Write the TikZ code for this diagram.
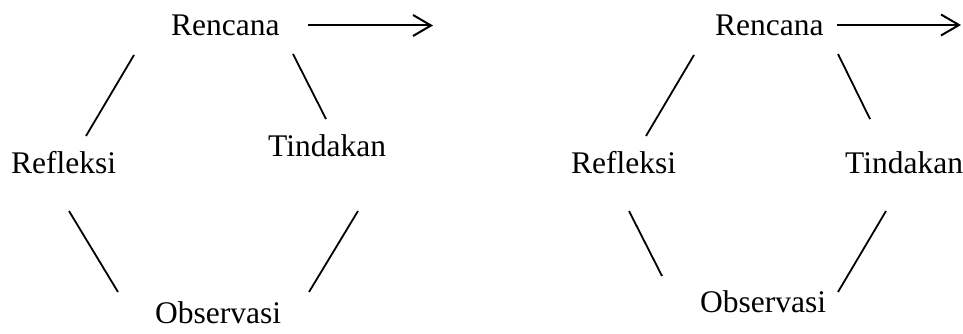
\documentclass[tikz,border=0pt]{standalone}
\usepackage{fontspec}
\setmainfont{Liberation Serif}
\usetikzlibrary{arrows.meta}
\begin{document}
\begin{tikzpicture}[x=1pt,y=-1pt,
  label/.style={inner sep=0pt,anchor=base west,font=\fontsize{31.5}{36}\selectfont},
  link/.style={line width=1.8pt},
  flow/.style={line width=2pt,-{Straight Barb[length=18pt,width=21pt,line width=2pt]}}]
\useasboundingbox (0,0) rectangle (963,334);

% first cycle
\node[label] (r1) at (171,35.5) {Rencana};
\node[label] (t1) at (268,157) {Tindakan};
\node[label] (f1) at (11,173) {Refleksi};
\node[label] (o1) at (155,323) {Observasi};
\coordinate (r1a) at (134,55);  \coordinate (f1a) at (86,136);
\coordinate (r1b) at (293,54);  \coordinate (t1a) at (326,119);
\coordinate (f1b) at (69,211);  \coordinate (o1a) at (118,292);
\coordinate (t1b) at (358,211); \coordinate (o1b) at (309,292);
\coordinate (a1s) at (308,25.5); \coordinate (a1e) at (433,25.5);
\draw[link] (r1a) -- (f1a);
\draw[link] (r1b) -- (t1a);
\draw[link] (f1b) -- (o1a);
\draw[link] (t1b) -- (o1b);
\draw[flow] (a1s) -- (a1e);

% second cycle
\node[label] (r2) at (715,35.5) {Rencana};
\node[label] (t2) at (845,173) {Tindakan};
\node[label] (f2) at (571,173) {Refleksi};
\node[label] (o2) at (700,312) {Observasi};
\coordinate (r2a) at (694,55);  \coordinate (f2a) at (646,136);
\coordinate (r2b) at (838,54);  \coordinate (t2a) at (870,119);
\coordinate (f2b) at (629,211); \coordinate (o2a) at (662,276);
\coordinate (t2b) at (886,211); \coordinate (o2b) at (838,292);
\coordinate (a2s) at (837,25); \coordinate (a2e) at (961,25);
\draw[link] (r2a) -- (f2a);
\draw[link] (r2b) -- (t2a);
\draw[link] (f2b) -- (o2a);
\draw[link] (t2b) -- (o2b);
\draw[flow] (a2s) -- (a2e);
\end{tikzpicture}
\end{document}
